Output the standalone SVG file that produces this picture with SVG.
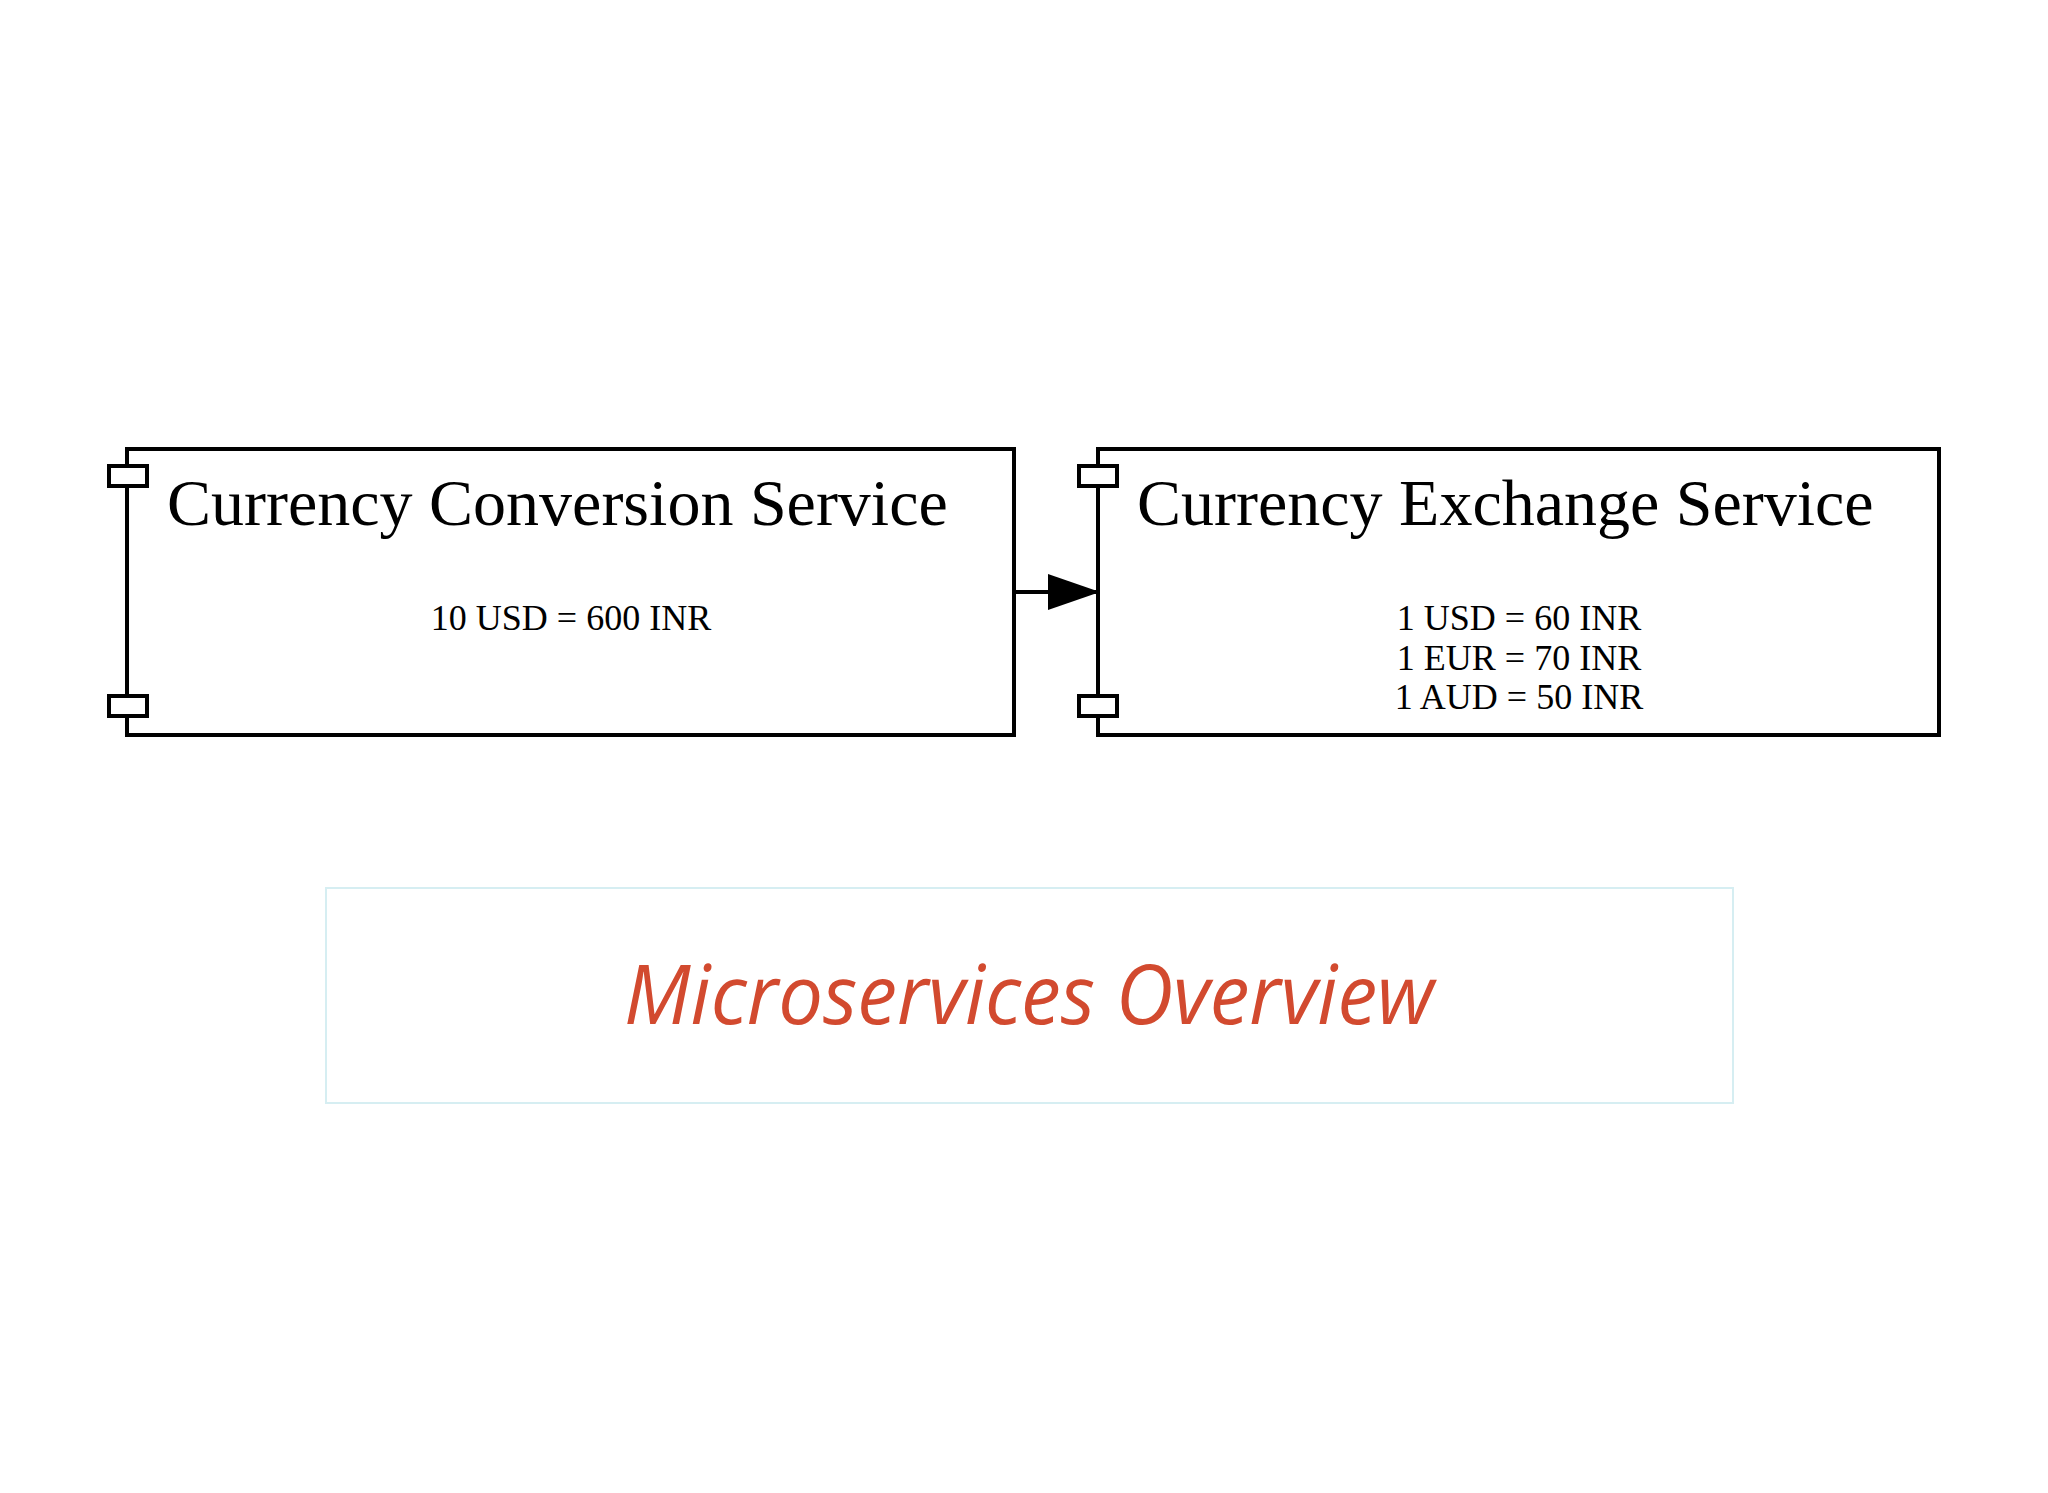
<svg xmlns="http://www.w3.org/2000/svg" width="2048" height="1493" viewBox="0 0 2048 1493">
<style>
.box{fill:#fff;stroke:#000;stroke-width:4}
.port{fill:#fff;stroke:#000;stroke-width:4}
.t{font-family:"Liberation Serif",serif;fill:#000}
</style>
<defs><marker id="ah" markerWidth="52" markerHeight="36" refX="52" refY="18" orient="auto" markerUnits="userSpaceOnUse"><path d="M0,0 L52,18 L0,36 Z" fill="#000"/></marker></defs>
<rect width="2048" height="1493" fill="#fff"/>
<g id="conversion">
<rect class="box" x="127" y="449" width="887" height="286"/>
<rect class="port" x="109" y="466" width="38" height="20"/>
<rect class="port" x="109" y="696" width="38" height="20"/>
<text class="t" x="167" y="525" font-size="66">Currency Conversion Service</text>
<text class="t" x="571" y="630" font-size="36" text-anchor="middle">10 USD = 600 INR</text>
</g>
<g id="exchange">
<rect class="box" x="1098" y="449" width="841" height="286"/>
<rect class="port" x="1079" y="466" width="38" height="20"/>
<rect class="port" x="1079" y="696" width="38" height="20"/>
<text class="t" x="1137" y="525" font-size="66">Currency Exchange Service</text>
<text class="t" x="1519" y="630" font-size="36" text-anchor="middle">1 USD = 60 INR</text>
<text class="t" x="1519" y="670" font-size="36" text-anchor="middle">1 EUR = 70 INR</text>
<text class="t" x="1519" y="709" font-size="36" text-anchor="middle">1 AUD = 50 INR</text>
</g>
<g id="connectors">
<line x1="1014" y1="592" x2="1100" y2="592" stroke="#000" stroke-width="4" marker-end="url(#ah)"/>
</g>
<g id="caption">
<rect x="326" y="888" width="1407" height="215" fill="#fff" stroke="#d6eef2" stroke-width="2"/>
<text x="1029" y="1024" font-family="'Open Sans',sans-serif" font-style="italic" font-size="83" fill="#d24a2f" text-anchor="middle" textLength="810" lengthAdjust="spacingAndGlyphs">Microservices Overview</text>
</g>
</svg>
